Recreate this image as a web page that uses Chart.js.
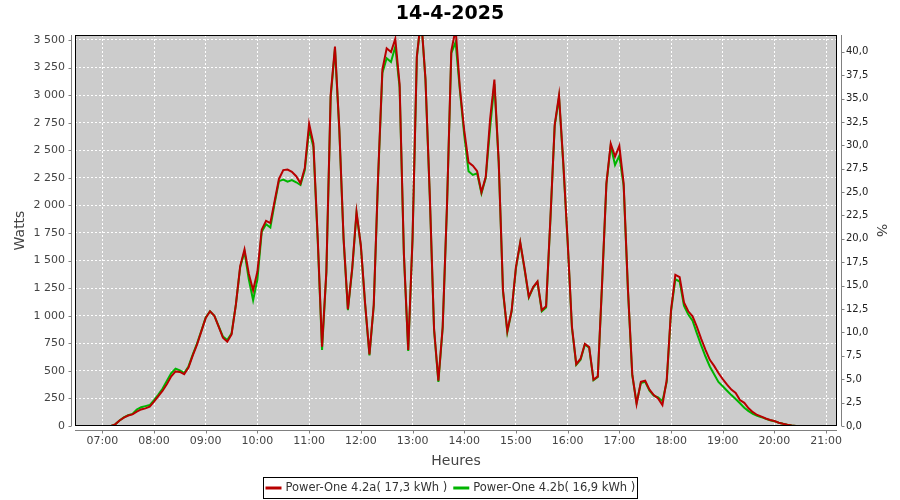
<!DOCTYPE html>
<html>
<head>
<meta charset="utf-8">
<title>14-4-2025</title>
<script src="https://cdn.jsdelivr.net/npm/chart.js@4.4.1/dist/chart.umd.min.js"></script>
<style>
  body { margin: 0; background: #fff; }
  #wrap { width: 900px; height: 500px; position: relative; }
</style>
</head>
<body>
<div id="wrap"><canvas id="chart"></canvas></div>
<script>
const chartTitle = '14-4-2025';

// 5-minute readings, 06:45 -> 20:55
const times = [
  '06:45','06:50','06:55',
  '07:00','07:05','07:10','07:15','07:20','07:25','07:30','07:35','07:40','07:45','07:50','07:55',
  '08:00','08:05','08:10','08:15','08:20','08:25','08:30','08:35','08:40','08:45','08:50','08:55',
  '09:00','09:05','09:10','09:15','09:20','09:25','09:30','09:35','09:40','09:45','09:50','09:55',
  '10:00','10:05','10:10','10:15','10:20','10:25','10:30','10:35','10:40','10:45','10:50','10:55',
  '11:00','11:05','11:10','11:15','11:20','11:25','11:30','11:35','11:40','11:45','11:50','11:55',
  '12:00','12:05','12:10','12:15','12:20','12:25','12:30','12:35','12:40','12:45','12:50','12:55',
  '13:00','13:05','13:10','13:15','13:20','13:25','13:30','13:35','13:40','13:45','13:50','13:55',
  '14:00','14:05','14:10','14:15','14:20','14:25','14:30','14:35','14:40','14:45','14:50','14:55',
  '15:00','15:05','15:10','15:15','15:20','15:25','15:30','15:35','15:40','15:45','15:50','15:55',
  '16:00','16:05','16:10','16:15','16:20','16:25','16:30','16:35','16:40','16:45','16:50','16:55',
  '17:00','17:05','17:10','17:15','17:20','17:25','17:30','17:35','17:40','17:45','17:50','17:55',
  '18:00','18:05','18:10','18:15','18:20','18:25','18:30','18:35','18:40','18:45','18:50','18:55',
  '19:00','19:05','19:10','19:15','19:20','19:25','19:30','19:35','19:40','19:45','19:50','19:55',
  '20:00','20:05','20:10','20:15','20:20','20:25','20:30','20:35','20:40','20:45','20:50','20:55'
];

// Power-One 4.2a (watts)
const powerA = [
  0, 0, 0,
  0, 0, 0, 15, 50, 75, 95, 105, 130, 150, 160, 175,
  220, 270, 320, 380, 450, 495, 490, 470, 530, 640, 740, 860,
  980, 1040, 1000, 900, 800, 765, 830, 1100, 1450, 1600, 1380, 1230,
  1400, 1780, 1860, 1840, 2040, 2240, 2320, 2325, 2305, 2265, 2200, 2340,
  2740, 2560, 1700, 720, 1400, 3000, 3440, 2700, 1700, 1060, 1430, 1940,
  1640, 1110, 650, 1100, 2250, 3230, 3424, 3390, 3510, 3100, 1560, 690,
  1700, 3350, 3700, 3150, 2100, 880, 410, 900, 2000, 3400, 3600, 3060,
  2680, 2390, 2360, 2310, 2120, 2260, 2780, 3140, 2400, 1230, 860, 1045,
  1440, 1665, 1430, 1172, 1260, 1310, 1050, 1085, 1880, 2730, 3000, 2380,
  1680, 900, 560, 610, 745, 715, 420, 450, 1300, 2200, 2560, 2442,
  2540, 2200, 1240, 470, 200, 400, 410, 330, 280, 250, 190, 417,
  1050, 1370, 1350, 1120, 1040, 995, 900, 790, 690, 600, 545, 480,
  425, 375, 330, 300, 236, 210, 160, 125, 100, 85, 68, 54,
  45, 30, 20, 12, 5, 0, 0, 0, 0, 0, 0, 0
];

// Power-One 4.2b (watts)
const powerB = [
  0, 0, 0,
  0, 0, 0, 15, 50, 78, 98, 110, 150, 170, 180, 190,
  235, 285, 340, 410, 480, 520, 505, 480, 540, 650, 750, 865,
  985, 1040, 1000, 905, 810, 780, 840, 1100, 1440, 1580, 1330, 1140,
  1330, 1760, 1830, 1800, 2020, 2220, 2235, 2215, 2230, 2210, 2185, 2320,
  2690, 2530, 1680, 690, 1390, 2980, 3420, 2690, 1690, 1050, 1420, 1930,
  1630, 1100, 640, 1090, 2240, 3200, 3334, 3300, 3440, 3070, 1550, 680,
  1690, 3340, 3700, 3140, 2090, 870, 400, 890, 1990, 3380, 3480, 3040,
  2640, 2310, 2276, 2290, 2110, 2250, 2700, 3100, 2390, 1220, 850, 1040,
  1430, 1660, 1420, 1165, 1255, 1305, 1040, 1075, 1870, 2720, 2980, 2370,
  1670, 890, 555, 600, 740, 710, 415, 445, 1290, 2190, 2540, 2366,
  2450, 2180, 1230, 460, 210, 390, 400, 320, 275, 260, 225, 400,
  1040, 1330, 1310, 1090, 1010, 955, 840, 730, 630, 540, 470, 400,
  360, 320, 280, 245, 206, 165, 135, 110, 92, 80, 65, 52,
  44, 30, 20, 12, 5, 0, 0, 0, 0, 0, 0, 0
];

const seriesNames = ['Power-One 4.2a( 17,3 kWh )', 'Power-One 4.2b( 16,9 kWh )'];
const seriesColors = ['#b80000', '#00b400'];

// axis ticks
const hourTicks = ['07:00','08:00','09:00','10:00','11:00','12:00','13:00','14:00',
                   '15:00','16:00','17:00','18:00','19:00','20:00','21:00'];
const wattTicks = [0, 250, 500, 750, 1000, 1250, 1500, 1750, 2000, 2250, 2500, 2750, 3000, 3250, 3500];
const pctTicks = [0, 2.5, 5, 7.5, 10, 12.5, 15, 17.5, 20, 22.5, 25, 27.5, 30, 32.5, 35, 37.5, 40];

const FONT = '"DejaVu Sans", sans-serif';

function toMinutes(s) {
  const [h, m] = s.split(':');
  return (+h) * 60 + (+m);
}

function hhmm(v) {
  const h = Math.floor(v / 60), m = v % 60;
  return String(h).padStart(2, '0') + ':' + String(m).padStart(2, '0');
}

function watts(v) {
  if (v < 1000) return String(v);
  return Math.floor(v / 1000) + ' ' + String(v % 1000).padStart(3, '0');
}

// plot background, black frame, offset axis lines and boxed legend
const framePlugin = {
  id: 'frame',
  beforeDraw(chart) {
    const { ctx, chartArea: a } = chart;
    ctx.save();
    ctx.fillStyle = '#cccccc';
    ctx.fillRect(a.left, a.top, a.right - a.left, a.bottom - a.top);
    ctx.restore();
  },
  afterDraw(chart) {
    const { ctx, chartArea: a, scales } = chart;
    ctx.save();
    ctx.strokeStyle = '#000';
    ctx.lineWidth = 1;
    ctx.strokeRect(a.left + 0.5, a.top + 0.5, a.right - a.left - 1, a.bottom - a.top - 1);

    ctx.strokeStyle = '#808080';
    ctx.beginPath();
    const lx = a.left - 4 + 0.5;
    ctx.moveTo(lx, a.top); ctx.lineTo(lx, a.bottom);
    scales.y.ticks.forEach(t => {
      const y = Math.round(scales.y.getPixelForValue(t.value)) + 0.5;
      ctx.moveTo(lx - 3, y); ctx.lineTo(lx, y);
    });
    const rx = a.right + 4 + 0.5;
    ctx.moveTo(rx, a.top); ctx.lineTo(rx, a.bottom);
    scales.pct.ticks.forEach(t => {
      const y = Math.round(scales.pct.getPixelForValue(t.value)) + 0.5;
      ctx.moveTo(rx, y); ctx.lineTo(rx + 3, y);
    });
    const by = a.bottom + 4 + 0.5;
    ctx.moveTo(a.left, by); ctx.lineTo(a.right, by);
    scales.x.ticks.forEach(t => {
      const x = Math.round(scales.x.getPixelForValue(t.value)) + 0.5;
      ctx.moveTo(x, by); ctx.lineTo(x, by + 3);
    });
    ctx.stroke();

    // legend
    ctx.font = '11.5px ' + FONT;
    const items = chart.data.datasets.map(d => ({
      text: d.label, color: d.borderColor, w: ctx.measureText(d.label).width
    }));
    const sample = 16, gap = 4, between = 6, pad = 2;
    let total = pad * 2 + between * (items.length - 1);
    items.forEach(it => { total += sample + gap + it.w; });
    total = Math.round(total);
    const boxTop = 477, boxH = 21;
    let x = Math.round(450 - total / 2) + 0.5;
    ctx.fillStyle = '#fff';
    ctx.fillRect(x, boxTop + 0.5, total, boxH);
    ctx.strokeStyle = '#000';
    ctx.strokeRect(x, boxTop + 0.5, total, boxH);
    const cy = boxTop + boxH / 2 + 0.5;
    x += pad;
    ctx.textBaseline = 'middle';
    ctx.textAlign = 'left';
    items.forEach(it => {
      ctx.strokeStyle = it.color;
      ctx.lineWidth = 3;
      ctx.beginPath();
      ctx.moveTo(x, cy); ctx.lineTo(x + sample, cy);
      ctx.stroke();
      ctx.fillStyle = '#333';
      ctx.fillText(it.text, x + sample + gap, cy);
      x += sample + gap + it.w + between;
    });
    ctx.restore();
  }
};

const ctx = document.getElementById('chart').getContext('2d');
new Chart(ctx, {
  type: 'line',
  data: {
    datasets: [
      {
        label: seriesNames[0],
        data: powerA.map((v, i) => ({ x: toMinutes(times[i]), y: v })),
        borderColor: seriesColors[0],
        backgroundColor: seriesColors[0],
        borderWidth: 2,
        pointRadius: 0,
        tension: 0,
        yAxisID: 'y'
      },
      {
        label: seriesNames[1],
        data: powerB.map((v, i) => ({ x: toMinutes(times[i]), y: v })),
        borderColor: seriesColors[1],
        backgroundColor: seriesColors[1],
        borderWidth: 2,
        pointRadius: 0,
        tension: 0,
        yAxisID: 'y'
      }
    ]
  },
  options: {
    responsive: true,
    maintainAspectRatio: false,
    animation: false,
    layout: { padding: { left: 8, right: 8, top: 0, bottom: 0 } },
    plugins: {
      legend: { display: false },
      tooltip: { enabled: false },
      title: {
        display: true,
        text: chartTitle,
        color: '#000',
        font: { family: FONT, size: 19, weight: 'bold' },
        padding: { top: 2.6, bottom: 9.6 }
      }
    },
    scales: {
      x: {
        type: 'linear',
        min: 388.3,
        max: 1272.6,
        afterBuildTicks: s => { s.ticks = hourTicks.map(h => ({ value: toMinutes(h) })); },
        afterFit: s => { s.height = 74; },
        ticks: {
          autoSkip: false,
          maxRotation: 0,
          padding: 9,
          color: '#444',
          font: { family: FONT, size: 11 },
          callback: v => hhmm(v)
        },
        grid: { color: '#ffffff', lineWidth: 1, drawTicks: false },
        border: { display: false, dash: [2, 2] },
        title: {
          display: true,
          text: 'Heures',
          color: '#444',
          font: { family: FONT, size: 14 },
          padding: { top: 0, bottom: 30.6 }
        }
      },
      y: {
        position: 'left',
        min: 0,
        max: 3545,
        afterBuildTicks: s => { s.ticks = wattTicks.map(v => ({ value: v })); },
        afterFit: s => { s.width = 67; },
        ticks: {
          autoSkip: false,
          padding: 10,
          color: '#444',
          font: { family: FONT, size: 11 },
          callback: v => watts(v)
        },
        grid: { color: '#ffffff', lineWidth: 1, drawTicks: false },
        border: { display: false, dash: [2, 2] },
        title: {
          display: true,
          text: 'Watts',
          color: '#444',
          font: { family: FONT, size: 14 },
          padding: { top: 4, bottom: 0 }
        }
      },
      pct: {
        type: 'linear',
        position: 'right',
        display: true,
        min: 0,
        max: 41.79,
        afterBuildTicks: s => { s.ticks = pctTicks.map(v => ({ value: v })); },
        afterFit: s => { s.width = 55; },
        ticks: {
          autoSkip: false,
          padding: 9,
          color: '#222',
          font: { family: FONT, size: 10 },
          callback: v => v.toFixed(1).replace('.', ',')
        },
        grid: { display: false, drawTicks: false },
        border: { display: false },
        title: {
          display: true,
          text: '%',
          color: '#444',
          font: { family: FONT, size: 14 },
          padding: { top: 2.6, bottom: 0 }
        }
      }
    }
  },
  plugins: [framePlugin]
});
</script>
</body>
</html>
